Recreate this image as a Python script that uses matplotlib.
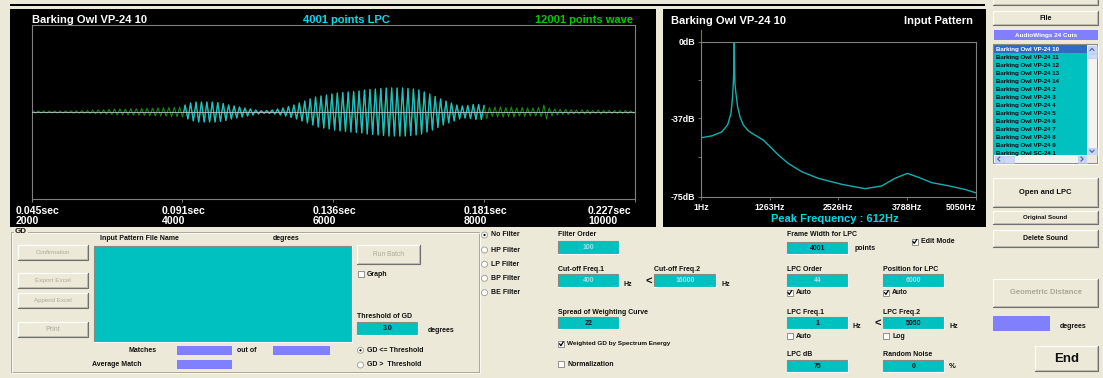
import matplotlib
matplotlib.use("Agg")
import matplotlib.pyplot as plt
import numpy as np
from matplotlib.patches import Rectangle, Circle
from matplotlib import transforms

W, H = 1103, 378
BG = '#ECE9D8'
CYAN_BOX = '#00C0C0'
LAVENDER = '#8080FF'
TXT = '#111111'
GRAY_TXT = '#ACA899'

plt.rcParams['font.family'] = ['Liberation Sans', 'DejaVu Sans']

# ---------------- values ----------------
file_name = "Barking Owl VP-24 10"
sample_rate = 44100
peak_freq = 612
wave_points = 12001
lpc_points = 4001
lpc_position = 6000
wave_start, wave_end = 2000, 10000

wave_ticks = [2000, 4000, 6000, 8000, 10000]
wave_tick_sec = ["0.045sec", "0.091sec", "0.136sec", "0.181sec", "0.227sec"]

# peak amplitude of every cycle of the wave, percent of full scale
cycle_amp = [1.2, 1.2, 1.2, 1.2, 1.2, 1.2, 1.2, 1.4, 1.4, 1.5,
             1.7, 2.0, 2.3, 2.5, 2.9, 3.5, 3.5, 3.5, 3.7, 3.8,
             4.0, 4.3, 4.4, 4.6, 4.8, 5.2, 5.4, 5.8,
             8.0, 10.3, 11.5, 11.5, 11.5, 11.5, 10.9, 9.8, 8.0, 6.9, 5.8, 4.6,
             3.5, 2.3, 1.5, 1.7, 2.3, 3.5, 4.6, 6.3, 8.0, 10.3,
             12.6, 15.0, 17.2, 18.4, 19.5, 20.7, 21.8, 22.4, 23.0, 23.6,
             24.1, 25.3, 25.9, 26.4, 27.0, 27.6, 27.6, 27.6, 27.6, 27.0,
             26.4, 25.3, 23.0, 20.7, 17.8, 15.0, 12.6, 10.3, 8.0, 6.9,
             7.5, 8.6, 8.6, 7.5, 5.2, 5.8, 5.8, 5.2, 5.8, 4.6,
             5.2, 4.6, 4.6, 5.2, 8.0, 4.6, 3.5, 2.9, 2.9, 2.3,
             2.3, 2.3, 2.3, 1.7, 2.3, 1.7, 1.7, 1.7, 1.7, 1.7, 1.2]

spec_ticks = [1, 1263, 2526, 3788, 5050]
spec_freq = [1, 196, 380, 490, 552, 582, 600, 612, 624, 643, 674, 717, 778, 870,
             993, 1146, 1269, 1422, 1606, 1851, 2157, 2586, 3015, 3322, 3567,
             3794, 3996, 4241, 4548, 4854, 5050]
spec_db = [-46.5, -45.6, -43.7, -40.3, -34.7, -26.6, -17.0, 0.0, -20.0, -25.0,
           -31.5, -36.3, -40.3, -43.1, -45.2, -47.6, -50.8, -54.8, -58.9, -62.9,
           -66.1, -69.0, -71.1, -69.8, -66.1, -63.7, -65.6, -68.2, -69.7, -71.5, -73.1]
db_ticks = [0, -37, -75]

file_list = ["Barking Owl VP-24 10", "Barking Owl VP-24 11", "Barking Owl VP-24 12",
             "Barking Owl VP-24 13", "Barking Owl VP-24 14", "Barking Owl VP-24 2",
             "Barking Owl VP-24 3", "Barking Owl VP-24 4", "Barking Owl VP-24 5",
             "Barking Owl VP-24 6", "Barking Owl VP-24 7", "Barking Owl VP-24 8",
             "Barking Owl VP-24 9", "Barking Owl SC-24 1"]

fig = plt.figure(figsize=(W / 100, H / 100), dpi=100)
fig.patch.set_facecolor(BG)
gui = fig.add_axes([0, 0, 1, 1])
gui.set_xlim(0, W)
gui.set_ylim(H, 0)
gui.axis('off')


def px_axes(x0, y0, x1, y1):
    return fig.add_axes([x0 / W, 1 - y1 / H, (x1 - x0) / W, (y1 - y0) / H])


def rect(x0, y0, x1, y1, **kw):
    r = Rectangle((x0, y0), x1 - x0, y1 - y0, **kw)
    gui.add_patch(r)
    return r


def label(x, y, s, size=5, ha='left', color=TXT, bold=True, **kw):
    gui.text(x, y, s, ha=ha, va='center', fontsize=size, color=color,
             fontweight='bold' if bold else 'normal', **kw)


def button(x0, y0, x1, y1, s, size=5, enabled=True, bold=True):
    rect(x0, y0, x1, y1, facecolor=BG, edgecolor='none')
    gui.plot([x0, x0, x1], [y1, y0, y0], color='white', lw=0.8)
    gui.plot([x0, x1, x1], [y1, y1, y0], color='#707070', lw=0.8)
    gui.plot([x0 + 1, x1 - 1, x1 - 1], [y1 - 1, y1 - 1, y0 + 1], color='#BDB9AC', lw=0.7)
    label((x0 + x1) / 2, (y0 + y1) / 2, s, size=size, ha='center',
          color=TXT if enabled else GRAY_TXT, bold=bold)


def edit_box(x0, y0, x1, y1, value='', color=CYAN_BOX, text_color=TXT, size=5):
    rect(x0, y0, x1, y1, facecolor=color, edgecolor='none')
    gui.plot([x0, x0, x1], [y1, y0, y0], color='#8A8A80', lw=0.8)
    gui.plot([x0, x1, x1], [y1, y1, y0], color='white', lw=0.8)
    if value:
        label((x0 + x1) / 2, (y0 + y1) / 2 + 0.3, value, size=size, ha='center', color=text_color)


def check_box(x, y, s, checked, size=5):
    rect(x, y - 3, x + 6, y + 3, facecolor='white', edgecolor='#808080', lw=0.6)
    if checked:
        gui.plot([x + 1.3, x + 2.6, x + 4.9], [y - 0.1, y + 1.7, y - 2.0], color='black', lw=0.9)
    label(x + 9, y, s, size=size)


def radio(x, y, s, selected, size=5):
    gui.add_patch(Circle((x + 3, y), 3, facecolor='white', edgecolor='#9A9A90', lw=0.6))
    if selected:
        gui.add_patch(Circle((x + 3, y), 1.1, facecolor='black', edgecolor='none'))
    label(x + 9.5, y, s, size=size)


# ---------------- top strip and black panels ----------------
rect(10, 3.5, 985, 5.5, facecolor='black', edgecolor='none')
rect(10, 9, 656, 227, facecolor='black', edgecolor='none')
rect(663, 9, 986, 227, facecolor='black', edgecolor='none')

# ---------------- waveform ----------------
period = sample_rate / peak_freq
idx, amp = [], []
for k, a in enumerate(cycle_amp):
    s0 = wave_start + k * period
    idx += [s0, s0 + period / 4, s0 + period / 2, s0 + 3 * period / 4]
    amp += [0, a, 0, -a]
idx = np.array(idx + [wave_start + len(cycle_amp) * period])
amp = np.array(amp + [0])
lpc_lo = lpc_position - (lpc_points - 1) / 2
lpc_hi = lpc_position + (lpc_points - 1) / 2
inside = (idx >= lpc_lo) & (idx <= lpc_hi)

ax_w = px_axes(31.6, 25, 635, 199)
ax_w.set_facecolor('black')
ax_w.plot(idx, amp, color='#168A16', lw=0.8)
ax_w.plot(idx[inside], amp[inside], color='#19C3CC', lw=0.9)
ax_w.axhline(0, color='#B8C8C8', lw=0.6, zorder=5)
ax_w.set_xlim(wave_start, wave_end)
ax_w.set_ylim(-100, 100)
ax_w.set_yticks([])
ax_w.set_xticks(wave_ticks)
ax_w.tick_params(axis='x', length=2.5, width=0.7, color='#808080', labelbottom=False)
for sp in ax_w.spines.values():
    sp.set_color('#808080')
    sp.set_linewidth(0.8)

label_dx = [-16, -21, -21, -21, -47]
for i, (t, sec) in enumerate(zip(wave_ticks, wave_tick_sec)):
    tr = transforms.offset_copy(
        transforms.blended_transform_factory(ax_w.transData, gui.transData),
        fig=fig, x=label_dx[i], y=0, units='dots')
    ax_w.text(t, 210.5, sec, transform=tr, ha='left', va='center', fontsize=7.6,
              fontweight='bold', color='white', clip_on=False)
    ax_w.text(t, 220.5, str(t), transform=tr, ha='left', va='center', fontsize=7.6,
              fontweight='bold', color='white', clip_on=False)

label(32, 20, file_name, size=8, color='white')
label(346, 20, f"{lpc_points} points LPC", size=8, ha='center', color='#00E0EA')
label(633, 20, f"{wave_points} points wave", size=8, ha='right', color='#00CC00')

# ---------------- spectrum ----------------
ax_s = px_axes(701, 41.7, 975.7, 196.7)
ax_s.set_facecolor('black')
ax_s.plot(spec_freq, spec_db, color='#14AFB0', lw=1.0)
ax_s.set_xlim(spec_ticks[0], spec_ticks[-1])
ax_s.set_ylim(db_ticks[-1], db_ticks[0])
ax_s.set_xticks(spec_ticks)
ax_s.set_xticklabels([f"{f}Hz" for f in spec_ticks])
ax_s.set_yticks(db_ticks)
ax_s.set_yticklabels([f"{d}dB" for d in db_ticks])
ax_s.set_yticks([-18.5, -56], minor=True)
ax_s.tick_params(which='both', length=2, width=0.6, color='#808080', pad=2.2,
                 labelcolor='white', labelsize=6.3)
for t in ax_s.get_xticklabels() + ax_s.get_yticklabels():
    t.set_fontweight('bold')
ax_s.get_xticklabels()[-1].set_ha('right')
for sp in ax_s.spines.values():
    sp.set_color('#808080')
    sp.set_linewidth(0.8)
gui.plot([701, 701], [29.5, 41.7], color='#808000', lw=0.8)

label(671, 20.5, file_name, size=8, color='white')
label(973, 20.5, "Input Pattern", size=8, ha='right', color='white')
label(835, 219.5, f"Peak Frequency : {peak_freq}Hz", size=8, ha='center', color='#00D8E2')

# ---------------- right column ----------------
button(993, -10, 1098, 5, "")
button(993, 11, 1098, 25, "File", size=5.2)
rect(994, 30, 1098, 40, facecolor=LAVENDER, edgecolor='none')
label(1046, 35.3, "AudioWings 24 Cuts", size=4.6, ha='center', color='white')

edit_box(993, 44, 1097.5, 163.5, color=CYAN_BOX)
clip = Rectangle((994, 45), 93, 110, transform=gui.transData)
rect(994, 45, 1087, 53.3, facecolor='#316AC5', edgecolor='none')
for i, name in enumerate(file_list):
    t = gui.text(996, 49.3 + 8 * i, name, ha='left', va='center', fontsize=4.4,
                 fontweight='bold', color='white' if i == 0 else '#0A0A0A')
    t.set_clip_path(clip)
# vertical scrollbar
rect(1087, 45, 1097, 155, facecolor='#F4F3EE', edgecolor='none')
rect(1087.5, 45.5, 1096.5, 53, facecolor='#C6D5FB', edgecolor='#B0C0E8', lw=0.4)
rect(1087.5, 53.5, 1096.5, 58, facecolor='#CCD9FA', edgecolor='#B0C0E8', lw=0.4)
rect(1087.5, 147.5, 1096.5, 155, facecolor='#C6D5FB', edgecolor='#B0C0E8', lw=0.4)
gui.plot([1090, 1092, 1094], [50.5, 48.3, 50.5], color='#4D6185', lw=0.8)
gui.plot([1090, 1092, 1094], [150.2, 152.4, 150.2], color='#4D6185', lw=0.8)
# horizontal scrollbar
rect(994, 155, 1087, 163, facecolor='#F4F3EE', edgecolor='none')
rect(994.5, 155.5, 1003, 162.5, facecolor='#C6D5FB', edgecolor='#B0C0E8', lw=0.4)
rect(1004, 155.5, 1014, 162.5, facecolor='#CCD9FA', edgecolor='#B0C0E8', lw=0.4)
rect(1078, 155.5, 1086.5, 162.5, facecolor='#C6D5FB', edgecolor='#B0C0E8', lw=0.4)
gui.plot([999.8, 997.6, 999.8], [157, 159, 161], color='#4D6185', lw=0.8)
gui.plot([1081, 1083.2, 1081], [157, 159, 161], color='#4D6185', lw=0.8)
rect(1087, 155, 1097, 163, facecolor=BG, edgecolor='none')

button(993, 178, 1098, 207, "Open and LPC", size=5.5)
button(993, 211, 1098, 224, "Original Sound", size=4.4)
button(993, 230, 1098, 247, "Delete Sound", size=5)
button(993, 279, 1098, 307, "Geometric Distance", size=5.5, enabled=False)
rect(993, 316, 1050, 331, facecolor=LAVENDER, edgecolor='none')
label(1060, 327, "degrees", size=5)
button(1035, 346, 1098, 371, "End", size=9.5)

# ---------------- GD group ----------------
gui.plot([11, 479, 479, 11, 11], [231.7, 231.7, 372.3, 372.3, 231.7], color='#ACA899', lw=0.7)
gui.plot([12, 480, 480, 12, 12], [232.7, 232.7, 373.3, 373.3, 232.7], color='white', lw=0.5)
gui.text(15, 231.5, "GD", ha='left', va='center', fontsize=5.8, fontweight='bold', color=TXT,
         bbox=dict(facecolor=BG, edgecolor='none', pad=0.6))

button(17.7, 245, 87.7, 260, "Confirmation", size=4.4, enabled=False, bold=False)
button(17.7, 273, 87.7, 288.3, "Export Excel", size=4.6, enabled=False, bold=False)
button(17.7, 292.7, 87.7, 307.7, "Append Excel", size=4.4, enabled=False, bold=False)
button(17.7, 321.7, 87.7, 336.7, "Print", size=5, enabled=False, bold=False)

label(100, 238.3, "Input Pattern File Name")
label(273, 238.3, "degrees")
edit_box(94, 245.7, 352, 342.3)

button(356.7, 245, 420, 264.3, "Run Batch", size=4.8, enabled=False, bold=False)
check_box(357.7, 274, "Graph", False)
label(357, 316, "Threshold of GD")
edit_box(356.7, 321.7, 418.3, 335, "3.0")
label(428, 330.3, "degrees")

label(128.7, 350.3, "Matches")
rect(176.7, 345.7, 232.3, 355, facecolor=LAVENDER, edgecolor='none')
label(236.7, 350.3, "out of")
rect(273.3, 345.7, 330, 355, facecolor=LAVENDER, edgecolor='none')
label(91.7, 364.3, "Average Match")
rect(176.7, 360, 232.3, 369.3, facecolor=LAVENDER, edgecolor='none')
radio(357.5, 350.3, "GD <= Threshold", True)
radio(357.5, 365, "GD >  Threshold", False)

# ---------------- filter column ----------------
filters = ["No Filter", "HP Filter", "LP Filter", "BP Filter", "BE Filter"]
filter_y = [235, 250, 264.3, 278.3, 292.7]
for f, y in zip(filters, filter_y):
    radio(481.5, y, f, f == "No Filter")

DIS = '#A6E2E2'
label(557.7, 235, "Filter Order")
edit_box(557.7, 241, 619, 254.3, "100", text_color=DIS)
label(557.7, 269.3, "Cut-off Freq.1")
edit_box(557.7, 274.3, 619, 287, "400", text_color=DIS)
label(624, 284.3, "Hz")
label(645.7, 281.7, "<", size=8)
label(654.3, 269.3, "Cut-off Freq.2")
edit_box(654.3, 274.3, 716, 287, "16000", text_color=DIS)
label(721.7, 284.3, "Hz")
label(557.7, 312.3, "Spread of Weighting Curve")
edit_box(557.7, 317.3, 619, 329.3, "22")
check_box(558.3, 344, "Weighted GD by Spectrum Energy", True, size=4.6)
check_box(558.3, 364.3, "Normalization", False)

# ---------------- LPC column ----------------
label(786.7, 235, "Frame Width for LPC")
edit_box(786.7, 241.7, 847.7, 254.3, str(lpc_points))
label(854.3, 249, "points")
check_box(911.7, 241.7, "Edit Mode", True)
label(786.7, 269.3, "LPC Order")
edit_box(786.7, 274.3, 847.7, 287, "44", text_color=DIS)
check_box(786.7, 292.7, "Auto", True)
label(883.3, 269.3, "Position for LPC")
edit_box(883.3, 274.3, 944, 287, str(lpc_position), text_color=DIS)
check_box(883.3, 292.7, "Auto", True)
label(786.7, 312.3, "LPC Freq.1")
edit_box(786.7, 317.3, 847.7, 329.3, str(spec_ticks[0]))
label(852.7, 326.7, "Hz")
label(874.3, 324, "<", size=8)
check_box(786.7, 336, "Auto", False)
label(883.3, 312.3, "LPC Freq.2")
edit_box(883.3, 317.3, 944, 329.3, str(spec_ticks[-1]))
label(950, 326.7, "Hz")
check_box(883.3, 336, "Log", False)
label(786.7, 355, "LPC dB")
edit_box(786.7, 360, 847.7, 371.7, str(-db_ticks[-1]))
label(883.3, 355, "Random Noise")
edit_box(883.3, 360, 944, 371.7, "0")
label(948.3, 366.7, "%", size=5.5)

fig.savefig("out.png", dpi=100, facecolor=BG)
